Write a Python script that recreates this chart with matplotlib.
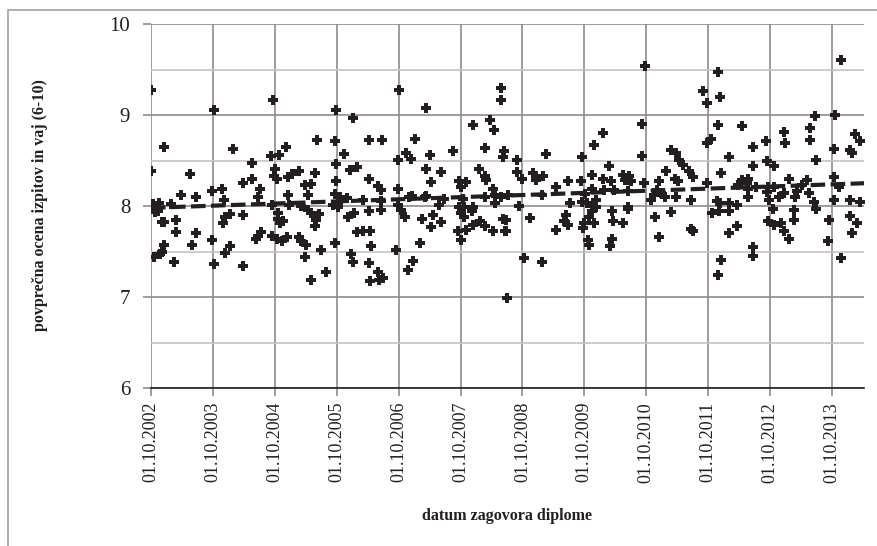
import matplotlib
matplotlib.use('Agg')
import matplotlib.pyplot as plt
from matplotlib.patches import Rectangle
import numpy as np

# datum zagovora (decimalno leto) in povprecna ocena
leto = [
    2002.75, 2003.77, 2002.96, 2004.08, 2002.75, 2003.38, 2004.38, 2004.24, 2004.38, 2004.51,
    2004.48, 2003.24, 2003.47, 2003.73, 2003.90, 2003.93, 2002.78, 2002.80, 2002.83, 2002.86,
    2002.88, 2002.82, 2003.07, 2003.16, 2002.92, 2002.96, 2003.16, 2003.47, 2003.94, 2003.92,
    2004.02, 2004.24, 2003.73, 2003.42, 2004.02, 2003.95, 2004.48, 2004.45, 2004.52, 2002.96,
    2002.92, 2002.80, 2002.89, 2003.12, 2003.77, 2004.24,
    2004.72, 2005.74, 2006.02, 2005.43, 2005.73, 2006.27, 2006.48, 2004.93, 2004.82, 2004.69,
    2005.86, 2005.74, 2004.75, 2004.79, 2004.74, 2004.96, 2005.03, 2005.14, 2005.40, 2005.96,
    2006.08, 2006.27, 2006.42, 2006.47, 2005.23, 2005.34, 2005.29, 2005.74, 2004.96, 2005.72,
    2005.80, 2005.91, 2006.17, 2006.47, 2004.70, 2004.98, 2005.18, 2005.29, 2005.34, 2005.40,
    2005.46, 2005.42, 2005.40, 2005.69, 2005.77, 2005.82, 2004.80, 2004.80, 2004.83, 2004.88,
    2005.93, 2006.03, 2006.27, 2006.46, 2006.07, 2006.17, 2006.28, 2004.70, 2004.78, 2004.86,
    2004.94, 2005.14, 2005.18, 2005.25, 2005.73, 2006.31, 2005.49, 2005.23, 2005.98, 2006.02,
    2006.27, 2005.58, 2005.34, 2006.42, 2006.50, 2006.28, 2006.44,
    2006.75, 2007.19, 2008.41, 2008.40, 2007.02, 2007.63, 2007.25, 2007.95, 2008.23, 2008.29,
    2008.15, 2008.45, 2008.44, 2006.74, 2006.87, 2006.95, 2007.19, 2007.43, 2007.28, 2008.05,
    2008.14, 2008.16, 2007.73, 2007.84, 2007.76, 2006.74, 2006.92, 2006.96, 2007.20, 2007.17,
    2007.49, 2007.41, 2007.79, 2007.73, 2007.81, 2007.95, 2007.75, 2007.80, 2007.93, 2008.14,
    2008.27, 2008.30, 2008.30, 2008.41, 2006.74, 2006.79, 2006.85, 2007.13, 2007.30, 2007.28,
    2007.44, 2007.71, 2007.75, 2007.84, 2007.95, 2008.06, 2008.14, 2008.27, 2008.43, 2008.47,
    2007.09, 2006.71, 2006.98, 2006.90, 2008.50,
    2010.06, 2009.90, 2009.72, 2009.13, 2010.15, 2008.66, 2008.67, 2008.75, 2008.92, 2008.97,
    2009.08, 2009.48, 2009.69, 2009.88, 2010.06, 2010.18, 2010.37, 2010.41, 2009.29, 2008.51,
    2009.07, 2009.76, 2009.88, 2009.94, 2010.07, 2010.23, 2008.70, 2009.52, 2009.72, 2009.80,
    2009.87, 2009.94, 2010.20, 2010.22, 2010.37, 2010.45, 2008.49, 2008.49, 2008.88, 2009.45,
    2009.43, 2009.48, 2009.29, 2009.75, 2009.73, 2009.83, 2009.87, 2009.90, 2009.81, 2009.83,
    2010.17, 2010.20, 2008.77, 2009.07,
    2010.73, 2011.91, 2011.66, 2011.95, 2011.74, 2010.69, 2011.91, 2012.29, 2011.80, 2011.74,
    2010.69, 2012.08, 2011.15, 2011.23, 2011.28, 2011.35, 2011.44, 2011.50, 2011.96, 2011.07,
    2011.21, 2011.26, 2010.48, 2010.45, 2010.51, 2010.72, 2010.96, 2011.74, 2012.30, 2012.24,
    2012.38, 2010.46, 2010.93, 2010.99, 2011.06, 2010.88, 2011.23, 2011.47, 2010.82, 2011.89,
    2011.95, 2012.09, 2012.22, 2011.82, 2011.93, 2012.08, 2010.46, 2011.15, 2010.90, 2011.47,
    2011.50, 2012.22, 2012.08, 2010.96, 2011.96, 2011.91,
    2013.89, 2013.47, 2013.80, 2013.40, 2012.97, 2012.99, 2012.69, 2012.48, 2013.40, 2014.13,
    2014.21, 2014.05, 2014.08, 2013.79, 2012.70, 2012.81, 2012.48, 2013.49, 2012.40, 2012.52,
    2012.40, 2012.40, 2012.71, 2012.81, 2012.70, 2012.74, 2012.80, 2012.90, 2012.98, 2013.06,
    2013.16, 2013.19, 2013.27, 2013.35, 2013.38, 2013.46, 2013.49, 2013.14, 2013.14, 2013.78,
    2013.86, 2013.79, 2014.05, 2014.21, 2013.70, 2014.05, 2014.15, 2014.07, 2012.71, 2012.81,
    2012.92, 2012.98, 2013.06, 2013.69, 2012.48, 2012.48, 2013.89,
]
ocena = [
    9.28, 9.06, 8.65, 8.63, 8.38, 8.35, 8.47, 8.25, 8.30, 8.19,
    8.10, 8.12, 8.10, 8.16, 8.19, 8.07, 8.02, 7.97, 8.00, 7.95,
    8.03, 7.93, 8.02, 7.85, 7.82, 7.82, 7.71, 7.70, 7.88, 7.81,
    7.91, 7.90, 7.63, 7.57, 7.56, 7.48, 7.67, 7.64, 7.71, 7.57,
    7.50, 7.44, 7.47, 7.39, 7.36, 7.34,
    9.17, 9.05, 8.97, 8.73, 8.71, 8.73, 8.73, 8.65, 8.56, 8.55,
    8.57, 8.46, 8.41, 8.30, 8.33, 8.32, 8.35, 8.38, 8.36, 8.40,
    8.43, 8.30, 8.22, 8.18, 8.23, 8.24, 8.12, 8.27, 8.12, 8.13,
    8.10, 8.09, 8.07, 8.06, 8.01, 8.01, 8.00, 7.96, 7.92, 7.89,
    7.91, 7.85, 7.78, 8.01, 7.99, 8.05, 7.92, 7.86, 7.81, 7.83,
    7.88, 7.92, 7.94, 7.96, 7.71, 7.72, 7.73, 7.67, 7.64, 7.62,
    7.66, 7.66, 7.62, 7.57, 7.59, 7.56, 7.52, 7.44, 7.47, 7.38,
    7.37, 7.28, 7.19, 7.28, 7.21, 7.18, 7.19,
    9.27, 9.08, 9.30, 9.17, 8.74, 8.60, 8.56, 8.89, 8.95, 8.84,
    8.64, 8.60, 8.54, 8.51, 8.58, 8.52, 8.41, 8.37, 8.26, 8.41,
    8.33, 8.29, 8.27, 8.26, 8.21, 8.19, 8.10, 8.11, 8.11, 8.10,
    8.08, 8.01, 8.08, 7.99, 7.99, 7.99, 7.92, 7.88, 7.94, 8.10,
    8.19, 8.12, 8.03, 8.10, 8.01, 7.96, 7.88, 7.86, 7.90, 7.77,
    7.82, 7.72, 7.63, 7.74, 7.79, 7.83, 7.78, 7.73, 7.86, 7.72,
    7.59, 7.52, 7.40, 7.30, 6.99,
    8.80, 8.67, 8.54, 8.57, 8.44, 8.51, 8.37, 8.30, 8.36, 8.29,
    8.33, 8.28, 8.27, 8.34, 8.30, 8.27, 8.34, 8.29, 8.21, 8.12,
    8.12, 8.13, 8.19, 8.07, 8.18, 8.18, 8.00, 8.03, 8.04, 8.03,
    8.00, 7.99, 7.94, 7.83, 7.81, 7.99, 7.85, 7.72, 7.87, 7.90,
    7.83, 7.79, 7.74, 7.81, 7.76, 7.88, 7.94, 7.81, 7.63, 7.57,
    7.56, 7.64, 7.43, 7.38,
    9.54, 9.47, 9.26, 9.20, 9.13, 8.90, 8.89, 8.88, 8.74, 8.69,
    8.55, 8.54, 8.62, 8.58, 8.51, 8.45, 8.38, 8.32, 8.36, 8.38,
    8.30, 8.27, 8.33, 8.29, 8.27, 8.25, 8.28, 8.25, 8.29, 8.23,
    8.25, 8.16, 8.18, 8.14, 8.10, 8.12, 8.10, 8.07, 8.07, 8.05,
    8.03, 8.03, 8.01, 7.92, 7.94, 7.94, 7.97, 7.93, 7.88, 7.75,
    7.72, 7.78, 7.70, 7.66, 7.41, 7.24,
    9.60, 8.99, 9.00, 8.86, 8.81, 8.69, 8.71, 8.65, 8.72, 8.79,
    8.71, 8.62, 8.58, 8.63, 8.50, 8.44, 8.44, 8.51, 8.30, 8.21,
    8.19, 8.10, 8.21, 8.21, 8.15, 8.07, 7.97, 8.10, 8.14, 8.30,
    8.10, 8.16, 8.23, 8.29, 8.14, 8.04, 7.97, 7.96, 7.85, 8.32,
    8.21, 8.07, 8.07, 8.04, 7.85, 7.89, 7.81, 7.70, 7.83, 7.79,
    7.81, 7.72, 7.64, 7.62, 7.55, 7.45, 7.43,
]

# linearni trend, odcitan s slike (zacetek in konec osi)
trend_leto = [2002.75, 2014.27]
trend_ocena = [7.98, 8.25]

tick_leta = list(range(2002, 2014))
tick_oznake = ['01.10.%d' % l for l in tick_leta]

plt.rcParams['font.family'] = ['Liberation Serif', 'DejaVu Serif']

fig = plt.figure(figsize=(8.78, 5.46), dpi=100)
ax = fig.add_axes([151 / 878, 158 / 546, 713 / 878, 364 / 546])

# okvir okoli grafa
fig.patches.append(Rectangle((8 / 878, -0.05), 1.0, (546 - 10) / 546 + 0.05,
                             transform=fig.transFigure, fill=False,
                             edgecolor='#a0a0a0', linewidth=1.2))

ax.plot(leto, ocena, linestyle='none', marker='P', markersize=7.5,
        color='#231f20', markeredgewidth=0, zorder=3)
ax.plot(trend_leto, trend_ocena, color='#231f20', linewidth=3,
        dashes=(3.5, 1.3), zorder=4)

ax.set_xlim(2002.75, 2002.75 + 713 / 61.9)
ax.set_ylim(6, 10)
ax.set_xticks([l + 0.75 for l in tick_leta])
ax.set_xticklabels(tick_oznake, rotation=90, fontsize=13, color='#231f20')
ax.set_yticks([6, 7, 8, 9, 10])
ax.set_yticks([6.5, 7.5, 8.5, 9.5], minor=True)
ax.tick_params(axis='y', which='major', labelsize=15, length=6, color='#8c8c8c',
               width=1.2, labelcolor='#231f20', pad=9)
ax.tick_params(axis='y', which='minor', length=0)
ax.tick_params(axis='x', length=6, color='#8c8c8c', width=1.2, pad=4)

ax.grid(True, axis='y', which='major', color='#8c8c8c', linewidth=1.2)
ax.grid(True, axis='y', which='minor', color='#c4c4c4', linewidth=1.2)
ax.grid(True, axis='x', which='major', color='#8c8c8c', linewidth=1.2)
ax.set_axisbelow(True)

for s in ['top', 'right', 'left']:
    ax.spines[s].set_visible(False)
ax.spines['bottom'].set_color('#231f20')
ax.spines['bottom'].set_linewidth(1.2)

fig.text(40 / 878, 1 - 205 / 546, 'povprečna ocena izpitov in vaj (6-10)',
         rotation=90, ha='center', va='center', fontsize=11.5, fontweight='bold',
         color='#231f20')
fig.text(507 / 878, 1 - 516 / 546, 'datum zagovora diplome', ha='center',
         va='center', fontsize=11.5, fontweight='bold', color='#231f20')

fig.savefig('out.png', dpi=100)
